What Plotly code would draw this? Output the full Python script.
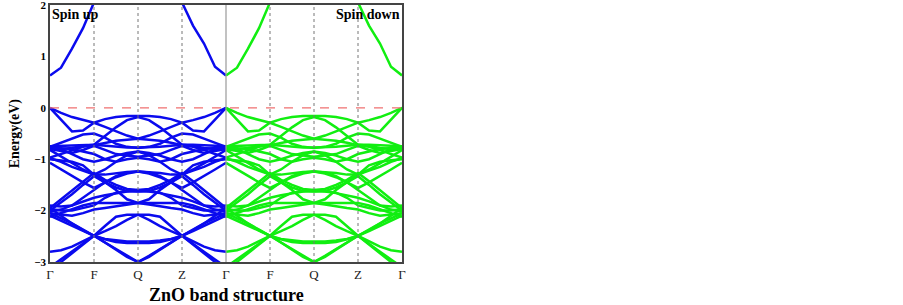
import plotly.graph_objects as go

# k-path positions (quarter steps) for one spin channel: Γ F Q Z Γ
k_path = list(range(17))
tick_labels = ["Γ", "F", "Q", "Z", "Γ", "F", "Q", "Z", "Γ"]
tick_pos = [0, 4, 8, 12, 16, 20, 24, 28, 32]
y_ticks = [-3, -2, -1, 0, 1, 2]

# Conduction band (eV)
conduction = [0.63, 0.78, 1.15, 1.55, 2.05, 2.6, 3.0, 3.2, 3.3, 3.2, 3.0, 2.6, 2.05, 1.6, 1.25, 0.8, 0.63]

# Valence bands (eV), read at quarter points along Γ-F-Q-Z-Γ
valence = [
    [0, -0.1, -0.18, -0.24, -0.29, -0.37, -0.46, -0.54, -0.6, -0.54, -0.46, -0.37, -0.29, -0.24, -0.18, -0.1, 0],
    [0, -0.23, -0.46, -0.44, -0.29, -0.22, -0.18, -0.16, -0.16, -0.16, -0.18, -0.22, -0.29, -0.44, -0.46, -0.23, 0],
    [-0.75, -0.74, -0.73, -0.72, -0.72, -0.55, -0.38, -0.24, -0.18, -0.24, -0.38, -0.55, -0.72, -0.72, -0.73, -0.74, -0.75],
    [-0.76, -0.68, -0.6, -0.52, -0.5, -0.58, -0.7, -0.76, -0.78, -0.76, -0.7, -0.58, -0.5, -0.52, -0.6, -0.68, -0.76],
    [-0.78, -0.8, -0.78, -0.74, -0.72, -0.74, -0.76, -0.77, -0.77, -0.77, -0.76, -0.74, -0.72, -0.74, -0.78, -0.8, -0.78],
    [-0.8, -0.84, -0.88, -0.82, -0.74, -0.82, -0.9, -0.93, -0.95, -0.93, -0.9, -0.82, -0.74, -0.82, -0.88, -0.84, -0.8],
    [-0.97, -0.9, -0.82, -0.76, -0.73, -0.68, -0.64, -0.62, -0.6, -0.62, -0.64, -0.68, -0.73, -0.76, -0.82, -0.9, -0.97],
    [-0.75, -0.8, -0.9, -1.0, -1.05, -1.0, -0.93, -0.88, -0.85, -0.88, -0.93, -1.0, -1.05, -1.0, -0.9, -0.8, -0.75],
    [-0.77, -0.78, -0.8, -0.85, -0.9, -1.0, -1.05, -1.0, -0.97, -1.0, -1.05, -1.0, -0.9, -0.85, -0.8, -0.78, -0.77],
    [-1.0, -1.02, -1.05, -1.12, -1.3, -1.2, -1.05, -0.92, -0.85, -0.92, -1.05, -1.2, -1.3, -1.12, -1.05, -1.02, -1.0],
    [-0.98, -1.05, -1.15, -1.22, -1.3, -1.3, -1.27, -1.25, -1.24, -1.25, -1.27, -1.3, -1.3, -1.22, -1.15, -1.05, -0.98],
    [-1.07, -1.2, -1.33, -1.45, -1.56, -1.45, -1.35, -1.28, -1.24, -1.28, -1.35, -1.45, -1.56, -1.45, -1.33, -1.2, -1.07],
    [-0.82, -0.95, -1.08, -1.2, -1.3, -1.45, -1.55, -1.62, -1.63, -1.62, -1.55, -1.45, -1.3, -1.2, -1.08, -0.95, -0.82],
    [-1.95, -1.78, -1.6, -1.43, -1.27, -1.4, -1.5, -1.58, -1.6, -1.58, -1.5, -1.4, -1.27, -1.43, -1.6, -1.78, -1.95],
    [-2.0, -1.84, -1.68, -1.5, -1.33, -1.45, -1.6, -1.78, -1.85, -1.78, -1.6, -1.45, -1.33, -1.5, -1.68, -1.84, -2.0],
    [-1.9, -1.92, -1.9, -1.82, -1.75, -1.7, -1.66, -1.63, -1.62, -1.63, -1.66, -1.7, -1.75, -1.82, -1.9, -1.92, -1.9],
    [-1.97, -2.0, -2.0, -1.95, -1.9, -1.75, -1.65, -1.62, -1.6, -1.62, -1.65, -1.75, -1.9, -1.95, -2.0, -2.0, -1.97],
    [-2.12, -2.05, -1.98, -1.9, -1.85, -1.85, -1.85, -1.85, -1.85, -1.85, -1.85, -1.85, -1.85, -1.9, -1.98, -2.05, -2.12],
    [-2.05, -2.08, -2.1, -2.05, -1.98, -1.95, -1.92, -1.88, -1.85, -1.88, -1.92, -1.95, -1.98, -2.05, -2.1, -2.08, -2.05],
    [-2.02, -1.98, -1.9, -1.75, -1.6, -1.45, -1.33, -1.26, -1.24, -1.26, -1.33, -1.45, -1.6, -1.75, -1.9, -1.98, -2.02],
    [-1.95, -2.1, -2.25, -2.38, -2.49, -2.62, -2.75, -2.88, -3.0, -2.88, -2.75, -2.62, -2.49, -2.38, -2.25, -2.1, -1.95],
    [-2.05, -2.15, -2.25, -2.37, -2.49, -2.3, -2.12, -2.08, -2.08, -2.08, -2.12, -2.3, -2.49, -2.37, -2.25, -2.15, -2.05],
    [-2.8, -2.77, -2.7, -2.6, -2.49, -2.55, -2.58, -2.6, -2.6, -2.6, -2.58, -2.55, -2.49, -2.6, -2.7, -2.77, -2.8],
    [-3.1, -2.95, -2.8, -2.65, -2.49, -2.56, -2.61, -2.63, -2.63, -2.63, -2.61, -2.56, -2.49, -2.65, -2.8, -2.95, -3.1],
    [-2.1, -2.2, -2.3, -2.4, -2.49, -2.62, -2.76, -2.9, -3.0, -2.9, -2.76, -2.62, -2.49, -2.4, -2.3, -2.2, -2.1],
    [-3.3, -3.0, -2.83, -2.66, -2.49, -2.4, -2.3, -2.18, -2.08, -2.18, -2.3, -2.4, -2.49, -2.66, -2.83, -3.0, -3.3],
]

UP_COLOR = "#0a0aee"
DOWN_COLOR = "#11ee11"

fig = go.Figure()

def add_panel(offset, color):
    xs = [k + offset for k in k_path]
    for band in [conduction] + valence:
        fig.add_trace(go.Scatter(x=xs, y=band, mode="lines",
                                 line=dict(color=color, width=2.5),
                                 showlegend=False, hoverinfo="skip"))

add_panel(0, UP_COLOR)    # spin up
add_panel(16, DOWN_COLOR)  # spin down

shapes = []
for xv in [4, 8, 12, 20, 24, 28]:
    shapes.append(dict(type="line", xref="x", yref="paper", x0=xv, x1=xv, y0=0, y1=1,
                       line=dict(color="#777777", width=1, dash="dot"), layer="above"))
shapes.append(dict(type="line", xref="x", yref="paper", x0=16, x1=16, y0=0, y1=1,
                   line=dict(color="#999999", width=1.2), layer="above"))
shapes.append(dict(type="line", xref="paper", yref="y", x0=0, x1=1, y0=0, y1=0,
                   line=dict(color="#f07070", width=1.3, dash="dash"), layer="above"))

serif = "Liberation Serif, Times New Roman, serif"

fig.update_layout(
    width=903, height=305,
    margin=dict(l=50, r=501, t=5, b=43, autoexpand=False),
    paper_bgcolor="white", plot_bgcolor="white",
    shapes=shapes,
    font=dict(family=serif, color="black"),
    xaxis=dict(range=[0, 32], tickvals=tick_pos, ticktext=tick_labels,
               showgrid=False, zeroline=False, showline=True, mirror=True,
               linecolor="#444444", linewidth=1.5, ticks="", automargin=False,
               ticklabeloverflow="allow",
               tickfont=dict(family=serif, size=13, color="#222222")),
    yaxis=dict(range=[-3, 2], tickvals=y_ticks,
               showgrid=False, zeroline=False, showline=True, mirror=True,
               linecolor="#444444", linewidth=1.5, ticks="", automargin=False,
               ticklabeloverflow="allow",
               tickfont=dict(family=serif, size=11, weight="bold")),
    annotations=[
        dict(text="Spin up", xref="x", yref="paper", x=0, y=1, xanchor="left", yanchor="top",
             showarrow=False, font=dict(family=serif, size=14, weight="bold")),
        dict(text="Spin down", xref="x", yref="paper", x=32, y=1, xanchor="right", yanchor="top",
             showarrow=False, font=dict(family=serif, size=14, weight="bold")),
        dict(text="ZnO band structure", xref="paper", yref="paper", x=0.5, y=-0.13,
             xanchor="center", yanchor="middle", showarrow=False,
             font=dict(family=serif, size=18, weight="bold")),
        dict(text="Energy(eV)", xref="paper", yref="paper", x=-0.1, y=0.5, textangle=-90,
             xanchor="center", yanchor="middle", showarrow=False,
             font=dict(family=serif, size=14, weight="bold")),
    ],
)

fig.write_html("out.html", config={"displayModeBar": False},
               post_script="document.body.style.margin='0';")
